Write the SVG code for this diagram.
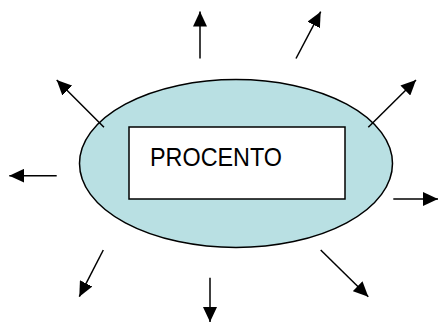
<svg xmlns="http://www.w3.org/2000/svg" width="438" height="322" viewBox="0 0 438 322">
<style>
.conn line{stroke:#000;stroke-width:1.5;marker-end:url(#ah)}
.ell{fill:#b9e0e3;stroke:#000;stroke-width:1.5}
.box{fill:#fff;stroke:#000;stroke-width:1.5}
.lbl{font-family:"Liberation Sans",Arial,sans-serif;font-size:25px;fill:#000}
</style>
<defs>
<marker id="ah" markerUnits="userSpaceOnUse" markerWidth="16" markerHeight="14" refX="15" refY="7" orient="auto">
<path d="M0,0 L15,7 L0,14 z" fill="#000"/>
</marker>
</defs>
<g id="ellipse-node">
<ellipse class="ell" cx="236" cy="163.5" rx="156.5" ry="84"/>
</g>
<g id="procento-node">
<rect class="box" x="129" y="127" width="216" height="72"/>
<text class="lbl" x="150" y="166" textLength="132" lengthAdjust="spacingAndGlyphs">PROCENTO</text>
</g>
<g class="conn" id="connectors">
<line x1="200" y1="58.5" x2="200" y2="11.5"/>
<line x1="296" y1="58.5" x2="320.7" y2="11.7"/>
<line x1="368.3" y1="127.3" x2="416" y2="80"/>
<line x1="393.3" y1="199" x2="438" y2="199"/>
<line x1="320.7" y1="250" x2="368.3" y2="296.7"/>
<line x1="210" y1="277.7" x2="210" y2="322"/>
<line x1="103.3" y1="250" x2="79.3" y2="296.7"/>
<line x1="56.7" y1="175.7" x2="9.3" y2="175.7"/>
<line x1="104" y1="127.3" x2="56.7" y2="80"/>
</g>
</svg>
